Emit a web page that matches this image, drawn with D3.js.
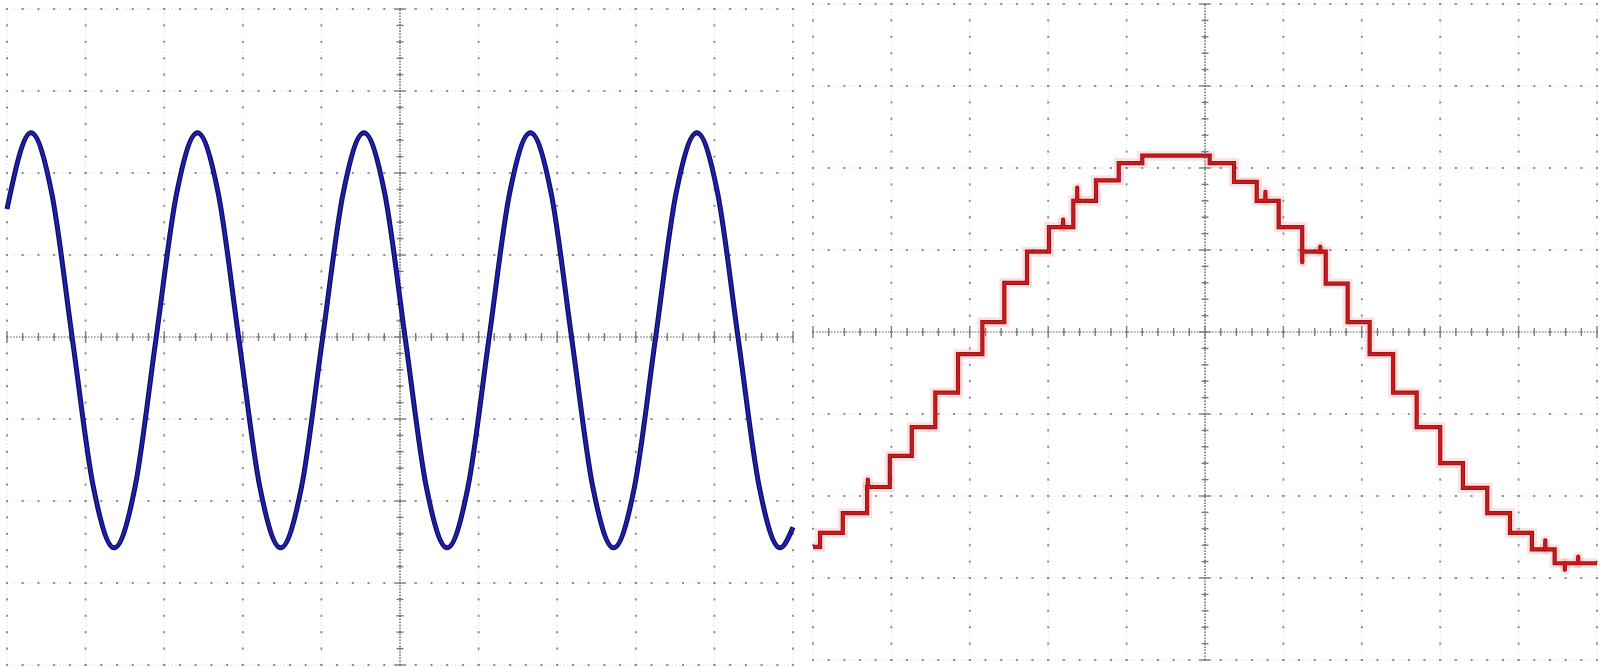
<!DOCTYPE html>
<html>
<head>
<meta charset="utf-8">
<script src="https://cdn.jsdelivr.net/npm/d3@7"></script>
<style>
  html, body { margin: 0; padding: 0; background: #fff; }
  svg { display: block; }
</style>
</head>
<body>
<svg id="scope" width="1600" height="667"></svg>
<script>
// scope screen: 10 divisions across, 8 divisions up (-4..4)
const divsX = [0, 10];
const divsY = [-4, 4];

// left trace (blue): time in div, level in div
const blueT = [0, 0.305, 0.570, 0.834, 1.099, 1.364, 1.629, 1.893, 2.158, 2.423,
               2.688, 2.952, 3.217, 3.482, 3.747, 4.011, 4.276, 4.541, 4.806, 5.070,
               5.335, 5.600, 5.865, 6.129, 6.394, 6.659, 6.924, 7.188, 7.453, 7.718,
               7.983, 8.247, 8.512, 8.777, 9.042, 9.306, 9.571, 9.836, 10.0];
const blueV = [1.56, 2.49, 1.75, -0.04, -1.83, -2.57, -1.83, -0.04, 1.75, 2.49,
               1.75, -0.04, -1.83, -2.57, -1.83, -0.04, 1.75, 2.49, 1.75, -0.04,
               -1.83, -2.57, -1.83, -0.04, 1.75, 2.49, 1.75, -0.04, -1.83, -2.57,
               -1.83, -0.04, 1.75, 2.49, 1.75, -0.04, -1.83, -2.57, -2.32];

// right trace (red): staircase, step edges in div and level of each step
const redEdges = [0, 0.09, 0.38, 0.69, 0.98, 1.26, 1.56, 1.85, 2.16, 2.44, 2.73,
                  3.01, 3.32, 3.61, 3.90, 4.20, 5.06, 5.37, 5.66, 5.94, 6.24,
                  6.54, 6.82, 7.10, 7.40, 7.70, 8.00, 8.29, 8.60, 8.89, 9.17, 9.46, 10];
const redLevels = [-2.62, -2.45, -2.21, -1.89, -1.51, -1.16, -0.74, -0.27, 0.12, 0.60,
                   0.98, 1.28, 1.60, 1.85, 2.06, 2.15, 2.06, 1.83, 1.60, 1.28,
                   0.98, 0.59, 0.12, -0.27, -0.74, -1.16, -1.60, -1.90, -2.21, -2.45,
                   -2.65, -2.82];
// small spikes on the steps
const glitchT = [0.70, 3.19, 3.37, 5.77, 6.24, 6.47, 9.34, 9.59, 9.76];
const glitchV = [-1.80, 1.37, 1.76, 1.71, 0.85, 1.04, -2.54, -2.90, -2.74];

let svg = d3.select("#scope");

function levelAt(t) {
  let i = d3.bisectRight(redEdges, t) - 1;
  i = Math.max(0, Math.min(redLevels.length - 1, i));
  return redLevels[i];
}

function drawGrid(g, x, y) {
  let majorX = x.ticks(10);
  let majorY = y.ticks(8);
  let minorX = d3.range(0, 50.5).map(i => divsX[0] + i * 0.2);
  let minorY = d3.range(0, 40.5).map(i => divsY[0] + i * 0.2);

  // faint dotted division lines
  g.append("g").selectAll("line")
    .data(majorX)
    .join("line")
    .attr("x1", d => x(d)).attr("x2", d => x(d))
    .attr("y1", y(divsY[0])).attr("y2", y(divsY[1]))
    .attr("stroke", "#d9d9d9")
    .attr("stroke-dasharray", "1 2.5");

  g.append("g").selectAll("line")
    .data(majorY)
    .join("line")
    .attr("y1", d => y(d)).attr("y2", d => y(d))
    .attr("x1", x(divsX[0])).attr("x2", x(divsX[1]))
    .attr("stroke", "#d9d9d9")
    .attr("stroke-dasharray", "1 2.5");

  // darker dots at every fifth of a division
  let dots = [];
  majorX.forEach(mx => minorY.forEach(my => dots.push([mx, my])));
  majorY.forEach(my => minorX.forEach(mx => dots.push([mx, my])));
  g.append("g").selectAll("rect")
    .data(dots)
    .join("rect")
    .attr("x", d => x(d[0]) - 1)
    .attr("y", d => y(d[1]) - 1)
    .attr("width", 2)
    .attr("height", 2)
    .attr("fill", "#8c8c8c");

  // centre axes
  let cx = x(5), cy = y(0);
  g.append("line")
    .attr("x1", x(divsX[0])).attr("x2", x(divsX[1]))
    .attr("y1", cy).attr("y2", cy)
    .attr("stroke", "#6a6a6a")
    .attr("stroke-dasharray", "1.5 1.5");
  g.append("line")
    .attr("x1", cx).attr("x2", cx)
    .attr("y1", y(divsY[0])).attr("y2", y(divsY[1]))
    .attr("stroke", "#555")
    .attr("stroke-width", 1.3)
    .attr("stroke-dasharray", "1.5 1.5");

  g.append("g").selectAll("line")
    .data(minorX)
    .join("line")
    .attr("x1", d => x(d)).attr("x2", d => x(d))
    .attr("y1", d => cy - (Math.abs(d % 1) < 0.01 ? 6 : 4))
    .attr("y2", d => cy + (Math.abs(d % 1) < 0.01 ? 6 : 4))
    .attr("stroke", "#7c7c7c")
    .attr("stroke-width", 1.4);

  g.append("g").selectAll("line")
    .data(minorY)
    .join("line")
    .attr("y1", d => y(d)).attr("y2", d => y(d))
    .attr("x1", d => cx - (Math.abs(d % 1) < 0.01 ? 6 : 3.5))
    .attr("x2", d => cx + (Math.abs(d % 1) < 0.01 ? 6 : 3.5))
    .attr("stroke", "#7c7c7c")
    .attr("stroke-width", 1.4);
}

// left screen
let xL = d3.scaleLinear().domain(divsX).range([7, 793]);
let yL = d3.scaleLinear().domain(divsY).range([665, 9]);
let left = svg.append("g").attr("id", "left-screen");
drawGrid(left, xL, yL);

let bluePts = blueT.map((t, i) => [t, blueV[i]]);
let blueLine = d3.line()
  .x(d => xL(d[0]))
  .y(d => yL(d[1]))
  .curve(d3.curveMonotoneX);

left.append("path")
  .attr("d", blueLine(bluePts))
  .attr("fill", "none")
  .attr("stroke", "#10105e")
  .attr("stroke-width", 5)
  .attr("stroke-linejoin", "round");
left.append("path")
  .attr("d", blueLine(bluePts))
  .attr("fill", "none")
  .attr("stroke", "#1f1fb4")
  .attr("stroke-width", 2.4)
  .attr("stroke-linejoin", "round");

// right screen
let xR = d3.scaleLinear().domain(divsX).range([813, 1597]);
let yR = d3.scaleLinear().domain(divsY).range([660, 4]);
let right = svg.append("g").attr("id", "right-screen");
drawGrid(right, xR, yR);

let redPts = redLevels.map((v, i) => [redEdges[i], v]);
redPts.push([redEdges[redEdges.length - 1], redLevels[redLevels.length - 1]]);
let redLine = d3.line()
  .x(d => xR(d[0]))
  .y(d => yR(d[1]))
  .curve(d3.curveStepAfter);

let spikes = glitchT.map((t, i) => [[t, levelAt(t)], [t, glitchV[i]]]);
let spikeLine = d3.line().x(d => xR(d[0])).y(d => yR(d[1]));

[["rgba(235,90,90,0.18)", 10], ["#9e1418", 4.2], ["#cc1b1b", 2]].forEach(([col, w]) => {
  right.append("path")
    .attr("d", redLine(redPts))
    .attr("fill", "none")
    .attr("stroke", col)
    .attr("stroke-width", w);
  right.append("g").selectAll("path")
    .data(spikes)
    .join("path")
    .attr("d", d => spikeLine(d))
    .attr("fill", "none")
    .attr("stroke", col)
    .attr("stroke-width", w)
    .attr("stroke-linecap", "round");
});
</script>
</body>
</html>
